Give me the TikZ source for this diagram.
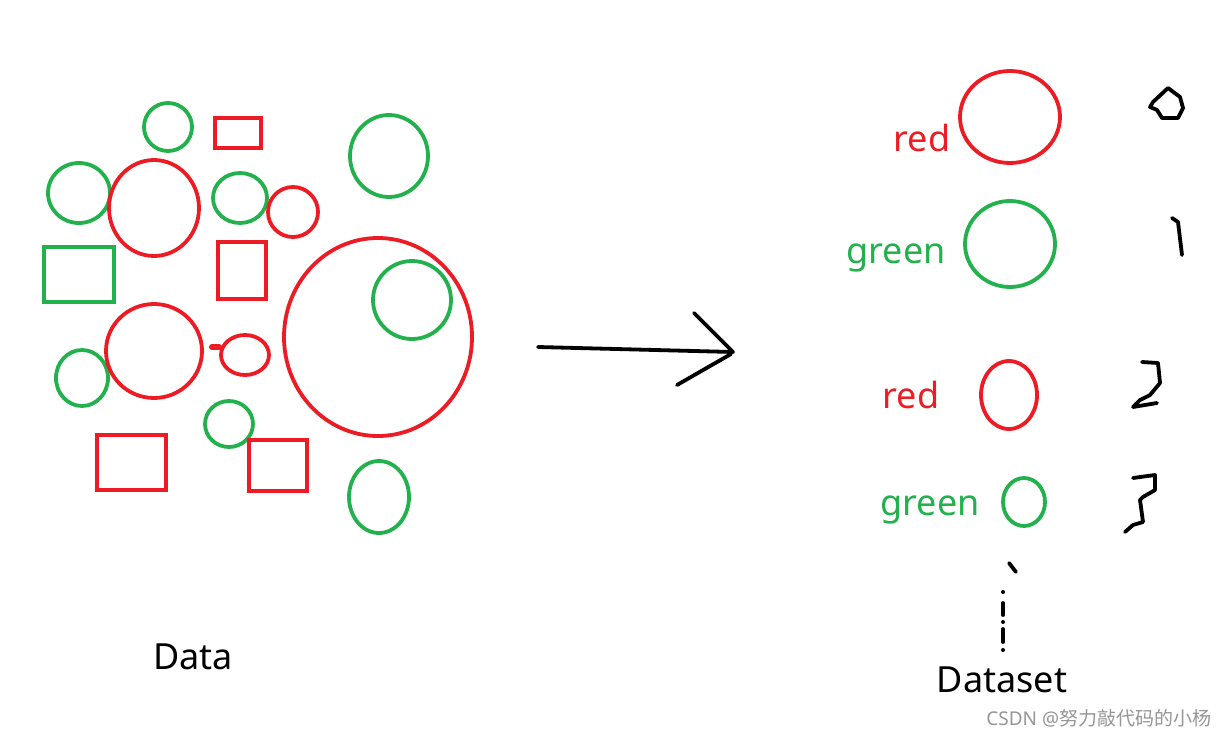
\documentclass[tikz,border=0pt]{standalone}
\usepackage{fontspec}
\setmainfont{Noto Sans}
\newfontfamily\cjk{Noto Sans CJK SC}
\definecolor{myred}{RGB}{237,28,36}
\definecolor{mygreen}{RGB}{34,177,76}
\definecolor{wm}{RGB}{150,150,150}
\begin{document}
\begin{tikzpicture}[x=1pt,y=-1pt,line width=3.8pt,
  rs/.style={draw=myred},
  gs/.style={draw=mygreen},
  ink/.style={draw=black,line width=3.8pt,line cap=round,line join=round},
  lbl/.style={font=\fontsize{36}{36}\selectfont,inner sep=0pt}]
\useasboundingbox[fill=white] (0,0) rectangle (1228,736);
% green circles
\draw[gs] (168,127) ellipse [x radius=24,y radius=24];
\draw[gs] (79,193) ellipse [x radius=31,y radius=30];
\draw[gs] (240,198) ellipse [x radius=27,y radius=25];
\draw[gs] (389,156) ellipse [x radius=39,y radius=41];
\draw[gs] (412,300) ellipse [x radius=39,y radius=39];
\draw[gs] (82,378) ellipse [x radius=26,y radius=28];
\draw[gs] (229,424) ellipse [x radius=24,y radius=23];
\draw[gs] (379,497) ellipse [x radius=30,y radius=36];
% red circles
\draw[rs] (154,208) ellipse [x radius=45,y radius=48];
\draw[rs] (293,212) ellipse [x radius=25,y radius=25];
\draw[rs] (154,351) ellipse [x radius=48,y radius=47];
\draw[rs] (245,355) ellipse [x radius=24,y radius=20];
\draw[rs] (378,337) ellipse [x radius=94,y radius=99];
\draw[draw=myred,line width=6pt,line cap=round] (212,347) -- (219,347);
% rectangles
\draw[rs] (215,118) rectangle (261,148);
\draw[rs] (218,242) rectangle (266,299);
\draw[rs] (97,435) rectangle (166,490);
\draw[rs] (249,440) rectangle (307,491);
\draw[gs] (44,247) rectangle (114,302);
% arrow
\coordinate (a1) at (538,347);
\coordinate (a2) at (733,352);
\coordinate (h1) at (694,313);
\coordinate (h2) at (677,385);
\draw[ink] (a1) -- (a2);
\draw[ink] (h1) -- (a2);
\draw[ink] (h2) -- (731,354);
% right side
\draw[rs] (1010,117) ellipse [x radius=50,y radius=46];
\draw[gs] (1010,244) ellipse [x radius=45,y radius=43];
\draw[rs] (1009,395) ellipse [x radius=28,y radius=34];
\draw[gs] (1024,502) ellipse [x radius=21,y radius=24];
\node[lbl,text=myred] (t1) at (922,138) {red};
\node[lbl,text=mygreen] (t2) at (896,258) {green};
\node[lbl,text=myred] (t3) at (911,395) {red};
\node[lbl,text=mygreen] (t4) at (930,510) {green};
\node[lbl,text=black] (data) at (193,657) {Data};
\node[lbl,text=black] (dataset) at (1002,680) {Dataset};
% handwritten digits
\draw[ink] (1168,88) -- (1153,102) -- (1150,107) -- (1157,110) -- (1162,118) -- (1178,118) -- (1183,108) -- (1180,97) -- cycle;
\draw[ink] (1172,218) -- (1178,222) -- (1182,255);
\draw[ink] (1142,362) -- (1158,363) -- (1160,383) -- (1150,395) -- (1140,400) -- (1133,407) -- (1157,403);
\draw[ink] (1133,478) -- (1155,475) -- (1155,490) -- (1143,497) -- (1140,500) -- (1143,522) -- (1133,525) -- (1125,532);
% dotted marks
\draw[ink] (1009,563) -- (1016,572);
\fill (1003,592) circle (2);
\draw[ink] (1003,603) -- (1003,615);
\fill (1003,622) circle (2);
\draw[ink] (1003,629) -- (1003,642);
\fill (1003,650) circle (2);
% watermark
\node[anchor=east,inner sep=0pt,text=wm,font=\fontsize{19}{19}\selectfont] (wmk) at (1213,718) {CSDN @{\cjk 努力敲代码的小杨}};
\end{tikzpicture}
\end{document}
